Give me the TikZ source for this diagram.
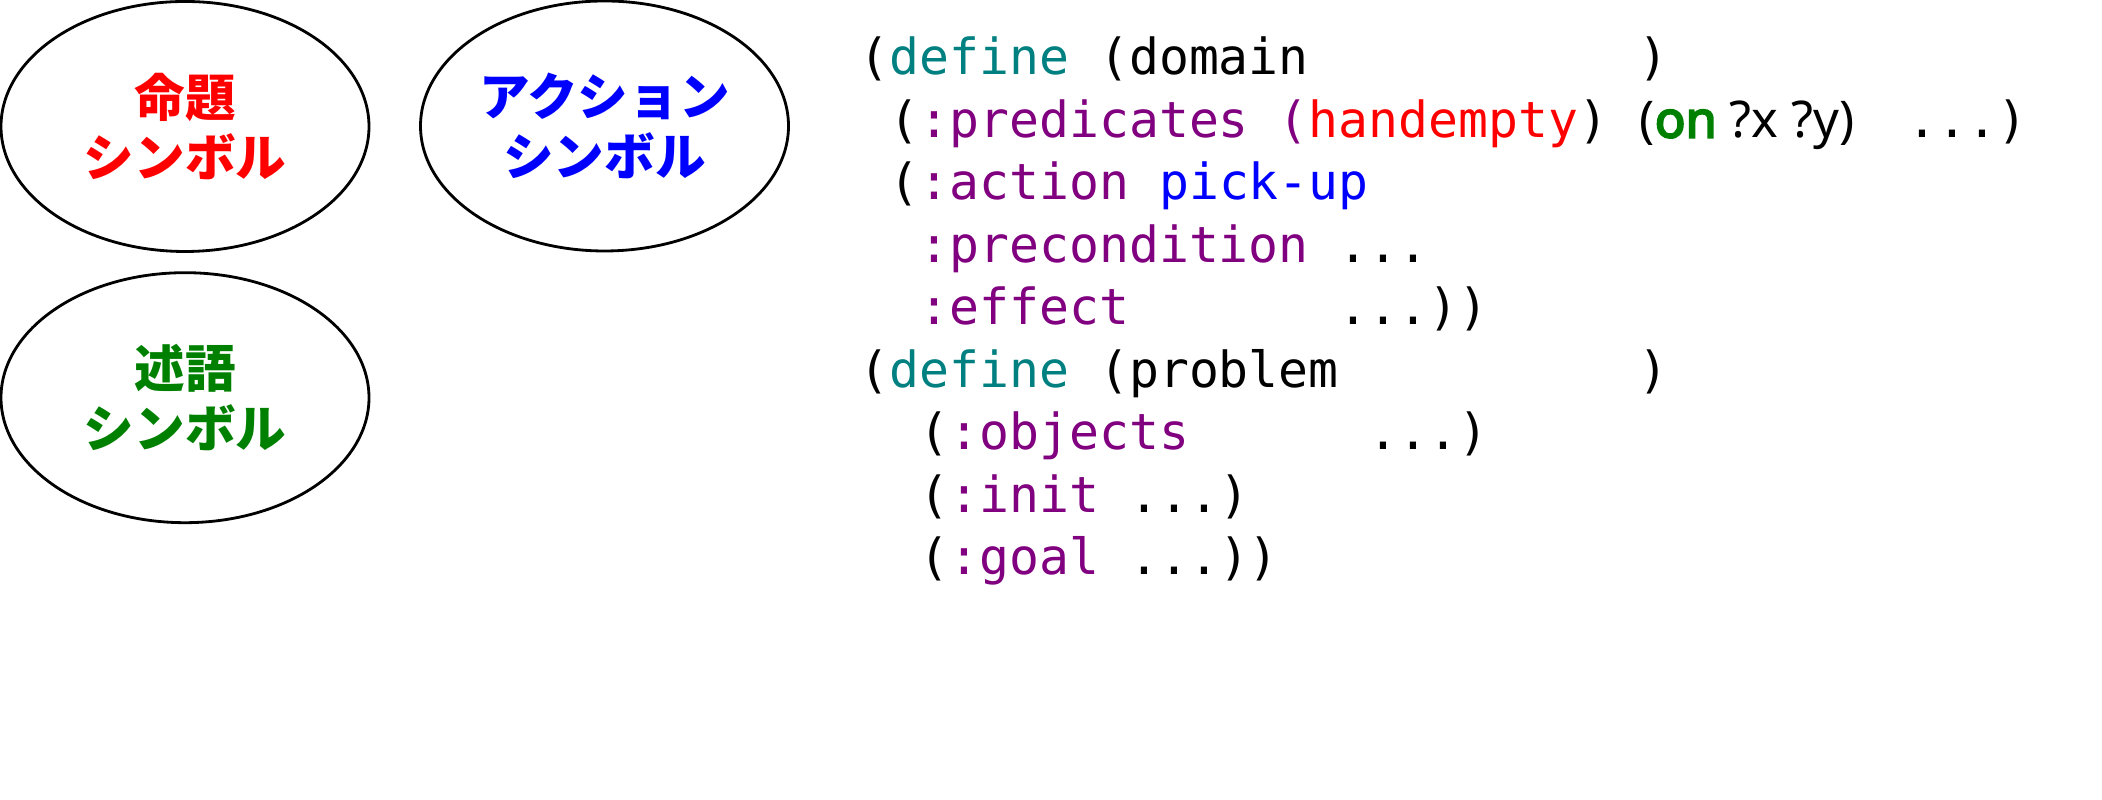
\documentclass[tikz,border=0pt]{standalone}
\usepackage{fontspec}
\setmonofont{DejaVu Sans Mono}
\newfontfamily\jpfont{Noto Sans CJK JP}
\newfontfamily\latfont{Noto Sans}[AutoFakeBold=4]
\usetikzlibrary{shapes.geometric}
\definecolor{defteal}{RGB}{0,128,128}
\definecolor{kwpurple}{RGB}{128,0,128}
\definecolor{predgreen}{RGB}{0,128,0}

\begin{document}
\begin{tikzpicture}[
    sym/.style={draw, ellipse, line width=0.8pt, minimum width=3.68cm, minimum height=2.5cm,
        inner sep=0pt, align=center, font=\fontsize{14.4}{17}\jpfont\bfseries},
    code/.style={anchor=base west, inner sep=0pt, font=\fontsize{14.15}{17}\ttfamily}]
    \useasboundingbox (0,0) rectangle (21.02,8);

    \node[sym, text=red] (prop) at (1.85, 6.735) {命題\\シンボル};
    \node[sym, text=blue] (act) at (6.045, 6.74) {アクション\\シンボル};
    \node[sym, text=predgreen] (pred) at (1.85, 4.023) {述語\\シンボル};

    % domain part
    \node[code] (dom) at (8.59, 7.25) {(\textcolor{defteal}{define} (domain~~~~~~~~~~~)};
    \node[code] (preds) at (8.59, 6.625) {~(\textcolor{kwpurple}{:predicates (}\textcolor{red}{handempty})~~~~~~~~~~...)};
    \node[anchor=base west, inner sep=0pt, font=\fontsize{14.4}{17}\latfont] (on) at (16.39, 6.625)
        {(\textcolor{predgreen}{\bfseries on} ?x ?y)};
    \node[code] (act1) at (8.59, 6.0) {~(\textcolor{kwpurple}{:action} \textcolor{blue}{pick-up}};
    \node[code] (pre) at (8.59, 5.375) {~~\textcolor{kwpurple}{:precondition} ...};
    \node[code] (eff) at (8.59, 4.75) {~~\textcolor{kwpurple}{:effect}~~~~~~~...))};

    % problem part
    \node[code] (prob) at (8.59, 4.125) {(\textcolor{defteal}{define} (problem~~~~~~~~~~)};
    \node[code] (objs) at (8.59, 3.5) {~~(\textcolor{kwpurple}{:objects}~~~~~~...)};
    \node[code] (init) at (8.59, 2.875) {~~(\textcolor{kwpurple}{:init} ...)};
    \node[code] (goal) at (8.59, 2.25) {~~(\textcolor{kwpurple}{:goal} ...))};
\end{tikzpicture}
\end{document}
